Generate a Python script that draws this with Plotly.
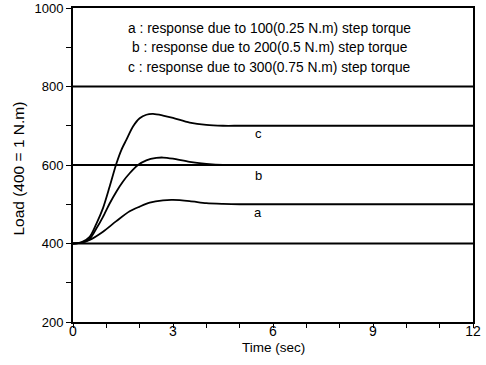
import plotly.graph_objects as go

# Data
t_a = [0, 0.25, 0.5, 0.9, 1.3, 1.7, 2.0, 2.3, 2.7, 3.0, 3.5, 4.0, 4.5, 5, 6, 8, 10, 12]
load_a = [400, 402, 409, 430, 457, 482, 494, 504, 510, 511, 508, 503, 501, 500, 500, 500, 500, 500]

t_b = [0, 0.25, 0.5, 0.7, 0.9, 1.1, 1.3, 1.5, 1.7, 1.95, 2.2, 2.5, 2.7, 3.0, 3.5, 4.0, 4.5, 5, 6, 8, 10, 12]
load_b = [400, 402, 412, 438, 468, 502, 532, 558, 579, 600, 612, 618, 619, 616, 608, 603, 600, 600, 600, 600, 600, 600]

t_c = [0, 0.25, 0.5, 0.7, 0.9, 1.1, 1.3, 1.45, 1.6, 1.8, 2.0, 2.2, 2.4, 2.7, 3.0, 3.5, 4.0, 4.5, 5, 6, 8, 10, 12]
load_c = [400, 403, 417, 450, 490, 545, 603, 638, 664, 698, 719, 728, 730, 726, 720, 708, 702, 700, 700, 700, 700, 700, 700]

ref_levels = [400, 600, 800]
curve_labels = ["a", "b", "c"]
label_x = [5.55, 5.55, 5.55]
label_y = [478, 574, 681]
legend_lines = [
    "a : response due to 100(0.25 N.m) step torque",
    "b : response due to 200(0.5 N.m) step torque",
    "c : response due to 300(0.75 N.m) step torque",
]
legend_y = [947, 899, 848]

x_tickvals = list(range(0, 13))
x_ticktext = [str(v) if v % 3 == 0 else "" for v in x_tickvals]
y_tickvals = list(range(200, 1001, 100))
y_ticktext = [str(v) if v % 200 == 0 else "" for v in y_tickvals]

x_title = "Time (sec)"
y_title = "Load (400 = 1 N.m)"

FONT = "Liberation Sans, Arial, sans-serif"

fig = go.Figure()

for lvl in ref_levels:
    fig.add_trace(go.Scatter(x=[0, 12], y=[lvl, lvl], mode="lines",
                             line=dict(color="black", width=1.8),
                             showlegend=False, hoverinfo="skip"))

for tt, yy in [(t_a, load_a), (t_b, load_b), (t_c, load_c)]:
    fig.add_trace(go.Scatter(x=tt, y=yy, mode="lines",
                             line=dict(color="black", width=1.8, shape="spline", smoothing=0.8),
                             showlegend=False))

for lab, lx, ly in zip(curve_labels, label_x, label_y):
    fig.add_annotation(x=lx, y=ly, text=lab, showarrow=False,
                       font=dict(family=FONT, size=13, color="black"))

for txt, ly in zip(legend_lines, legend_y):
    fig.add_annotation(x=5.9, y=ly, text=txt, showarrow=False, xanchor="center",
                       font=dict(family=FONT, size=13.8, color="black"))

# axis titles
fig.add_annotation(x=0.5, xref="paper", y=0, yref="paper", yanchor="middle",
                   yshift=-25, text=x_title, showarrow=False,
                   font=dict(family=FONT, size=13.5, color="black"))
fig.add_annotation(x=0, xref="paper", xanchor="center", xshift=-54.5,
                   y=0.487, yref="paper", yanchor="middle", textangle=-90,
                   text=y_title, showarrow=False,
                   font=dict(family=FONT, size=15.5, color="black"))

fig.update_layout(
    width=486, height=365,
    margin=dict(l=73, r=13, t=8, b=43),
    paper_bgcolor="white", plot_bgcolor="white",
    font=dict(family=FONT, size=13, color="black"),
    xaxis=dict(range=[0, 12], tickvals=x_tickvals, ticktext=x_ticktext,
               ticks="outside", ticklen=4, tickwidth=1.2, tickcolor="black",
               ticklabelstandoff=-9,
               showline=True, linecolor="black", linewidth=1.8, mirror=True,
               showgrid=False, zeroline=False, automargin=False,
               tickfont=dict(size=14)),
    yaxis=dict(range=[200, 1000], tickvals=y_tickvals, ticktext=y_ticktext,
               ticks="outside", ticklen=5, tickwidth=1.2, tickcolor="black",
               showline=True, linecolor="black", linewidth=1.8, mirror=True,
               showgrid=False, zeroline=False, automargin=False,
               tickfont=dict(size=13)),
)

fig.write_html("out.html", config={"displayModeBar": False},
               post_script="document.body.style.margin='0';document.body.style.overflow='hidden';")
